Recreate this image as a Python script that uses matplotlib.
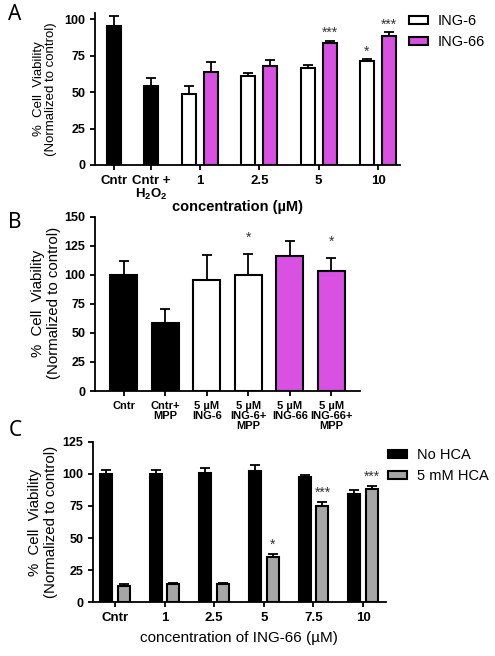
import numpy as np
import matplotlib
matplotlib.use('Agg')
import matplotlib.pyplot as plt
from matplotlib.patches import Patch

plt.rcParams['font.family'] = ['Liberation Sans', 'DejaVu Sans']
plt.rcParams['mathtext.default'] = 'regular'

MAGENTA = '#D851E2'
GRAY = '#A6A6A6'

# ---- panel A data ----
a_ctrl_labels = ['Cntr', 'Cntr +\nH$_2$O$_2$']
a_ctrl_vals = [95.7, 54.0]
a_ctrl_err = [6.6, 5.7]
a_conc = ['1', '2.5', '5', '10']
a_ing6 = [48.5, 61.1, 66.8, 71.2]
a_ing6_err = [6.0, 2.3, 2.1, 1.6]
a_ing66 = [64.0, 68.0, 83.5, 88.6]
a_ing66_err = [6.5, 3.9, 1.9, 2.7]
a_ing6_sig = ['', '', '', '*']
a_ing66_sig = ['', '', '***', '***']

# ---- panel B data ----
b_labels = ['Cntr', 'Cntr+\nMPP', '5 \u00b5M\nING-6', '5 \u00b5M\nING-6+\nMPP',
            '5 \u00b5M\nING-66', '5 \u00b5M\nING-66+\nMPP']
b_vals = [99.7, 58.7, 95.4, 99.7, 116.0, 103.4]
b_err = [12.3, 11.8, 21.5, 18.1, 13.5, 10.9]
b_colors = ['black', 'black', 'white', 'white', MAGENTA, MAGENTA]
b_sig = ['', '', '', '*', '', '*']

# ---- panel C data ----
c_conc = ['Cntr', '1', '2.5', '5', '7.5', '10']
c_no_hca = [99.5, 100.0, 100.8, 102.3, 97.7, 84.5]
c_no_hca_err = [3.3, 2.8, 3.6, 4.2, 1.0, 2.8]
c_hca = [12.7, 14.0, 14.2, 35.5, 74.9, 88.3]
c_hca_err = [1.3, 0.8, 0.8, 2.3, 3.1, 2.6]
c_hca_sig = ['', '', '', '*', '***', '***']

W, H = 495, 656
fig = plt.figure(figsize=(W / 100, H / 100), dpi=100)


def px_axes(left, top, right, bottom):
    return fig.add_axes([left / W, 1 - bottom / H, (right - left) / W, (bottom - top) / H])


def style(ax):
    for s in ['top', 'right']:
        ax.spines[s].set_visible(False)
    for s in ['left', 'bottom']:
        ax.spines[s].set_linewidth(1.3)
    ax.tick_params(direction='out', width=1.3, length=3.5)


def bars(ax, x, vals, err, width, color):
    ax.bar(x, vals, width, color=color, edgecolor='black', linewidth=1.5, zorder=2)
    ax.errorbar(x, vals, yerr=[np.zeros(len(vals)), err], fmt='none', ecolor='black',
                elinewidth=1.3, capsize=3.5, capthick=1.3, zorder=1)


def stars(ax, x, vals, err, sig, pad):
    for xi, v, e, s in zip(x, vals, err, sig):
        if s:
            ax.text(xi, v + e + pad, s, ha='center', va='center', fontsize=10, color='#333333')


def ylab(x, y, size):
    fig.text(x / W, 1 - y / H, '%  Cell  Viability\n(Normalized to control)', rotation=90,
             ha='center', va='center', fontsize=size, linespacing=1.1)


def ytick_font(ax):
    for t in ax.get_yticklabels():
        t.set_fontsize(9)
        t.set_fontweight('bold')


def legend(handles, x, y):
    fig.legend(handles=handles, loc='upper left', bbox_to_anchor=(x / W, 1 - y / H),
               frameon=False, fontsize=10.5, handlelength=1.25, handleheight=0.5,
               handletextpad=0.7, borderpad=0, labelspacing=0.45)


# ---------------- Panel A ----------------
axA = px_axes(95, 12.7, 400, 165)
style(axA)
ctrl_x = np.array([0, 0.62])
grp_x = 1.45 + np.arange(len(a_conc))
bw = 0.236
off = 0.186
bars(axA, ctrl_x, a_ctrl_vals, a_ctrl_err, bw, 'black')
bars(axA, grp_x - off, a_ing6, a_ing6_err, bw, 'white')
bars(axA, grp_x + off, a_ing66, a_ing66_err, bw, MAGENTA)
stars(axA, grp_x - off, a_ing6, a_ing6_err, a_ing6_sig, 5)
stars(axA, grp_x + off, a_ing66, a_ing66_err, a_ing66_sig, 5)
axA.set_xlim(-0.32, 4.82)
axA.set_ylim(0, 104.5)
axA.set_yticks([0, 25, 50, 75, 100])
axA.set_xticks(np.concatenate([ctrl_x, grp_x]))
axA.set_xticklabels(a_ctrl_labels + a_conc, fontsize=9.5, fontweight='bold', linespacing=1.0)
ytick_font(axA)
fig.text(237 / W, 1 - 207 / H, 'concentration (\u00b5M)', ha='center', va='center',
         fontsize=10.5, fontweight='bold')
ylab(45, 89, 9.5)
legend([Patch(facecolor='white', edgecolor='black', linewidth=1.5, label='ING-6'),
        Patch(facecolor=MAGENTA, edgecolor='black', linewidth=1.5, label='ING-66')], 402, 7)
fig.text(15 / W, 1 - 15 / H, 'A', fontsize=15, family='Noto Sans', ha='center', va='center')

# ---------------- Panel B ----------------
axB = px_axes(95, 216.7, 360, 391)
style(axB)
bx = np.arange(len(b_vals))
bars(axB, bx, b_vals, b_err, 0.65, b_colors)
stars(axB, bx, b_vals, b_err, b_sig, 14)
axB.set_xlim(-0.69, 5.69)
axB.set_ylim(0, 150)
axB.set_yticks([0, 25, 50, 75, 100, 125, 150])
axB.set_xticks(bx)
axB.set_xticklabels(b_labels, fontsize=8, fontweight='bold', linespacing=1.0)
ytick_font(axB)
ylab(46, 303, 10.8)
fig.text(15 / W, 1 - 222 / H, 'B', fontsize=15, family='Noto Sans', ha='center', va='center')

# ---------------- Panel C ----------------
axC = px_axes(93, 441.7, 386, 602.3)
style(axC)
cx = np.arange(len(c_conc))
cw = 0.24
coff = 0.18
bars(axC, cx - coff, c_no_hca, c_no_hca_err, cw, 'black')
bars(axC, cx + coff, c_hca, c_hca_err, cw, GRAY)
stars(axC, cx + coff, c_hca, c_hca_err, c_hca_sig, 7)
axC.set_xlim(-0.44, 5.46)
axC.set_ylim(0, 125)
axC.set_yticks([0, 25, 50, 75, 100, 125])
axC.set_xticks(cx)
axC.set_xticklabels(c_conc, fontsize=9.5, fontweight='bold')
ytick_font(axC)
fig.text(239 / W, 1 - 638 / H, 'concentration of ING-66 (\u00b5M)', ha='center', va='center',
         fontsize=11)
ylab(43, 522, 10.8)
legend([Patch(facecolor='black', edgecolor='black', linewidth=1.5, label='No HCA'),
        Patch(facecolor=GRAY, edgecolor='black', linewidth=1.5, label='5 mM HCA')], 381, 441)
fig.text(15 / W, 1 - 430 / H, 'C', fontsize=15, family='Noto Sans', ha='center', va='center')

fig.savefig('out.png', dpi=100)
